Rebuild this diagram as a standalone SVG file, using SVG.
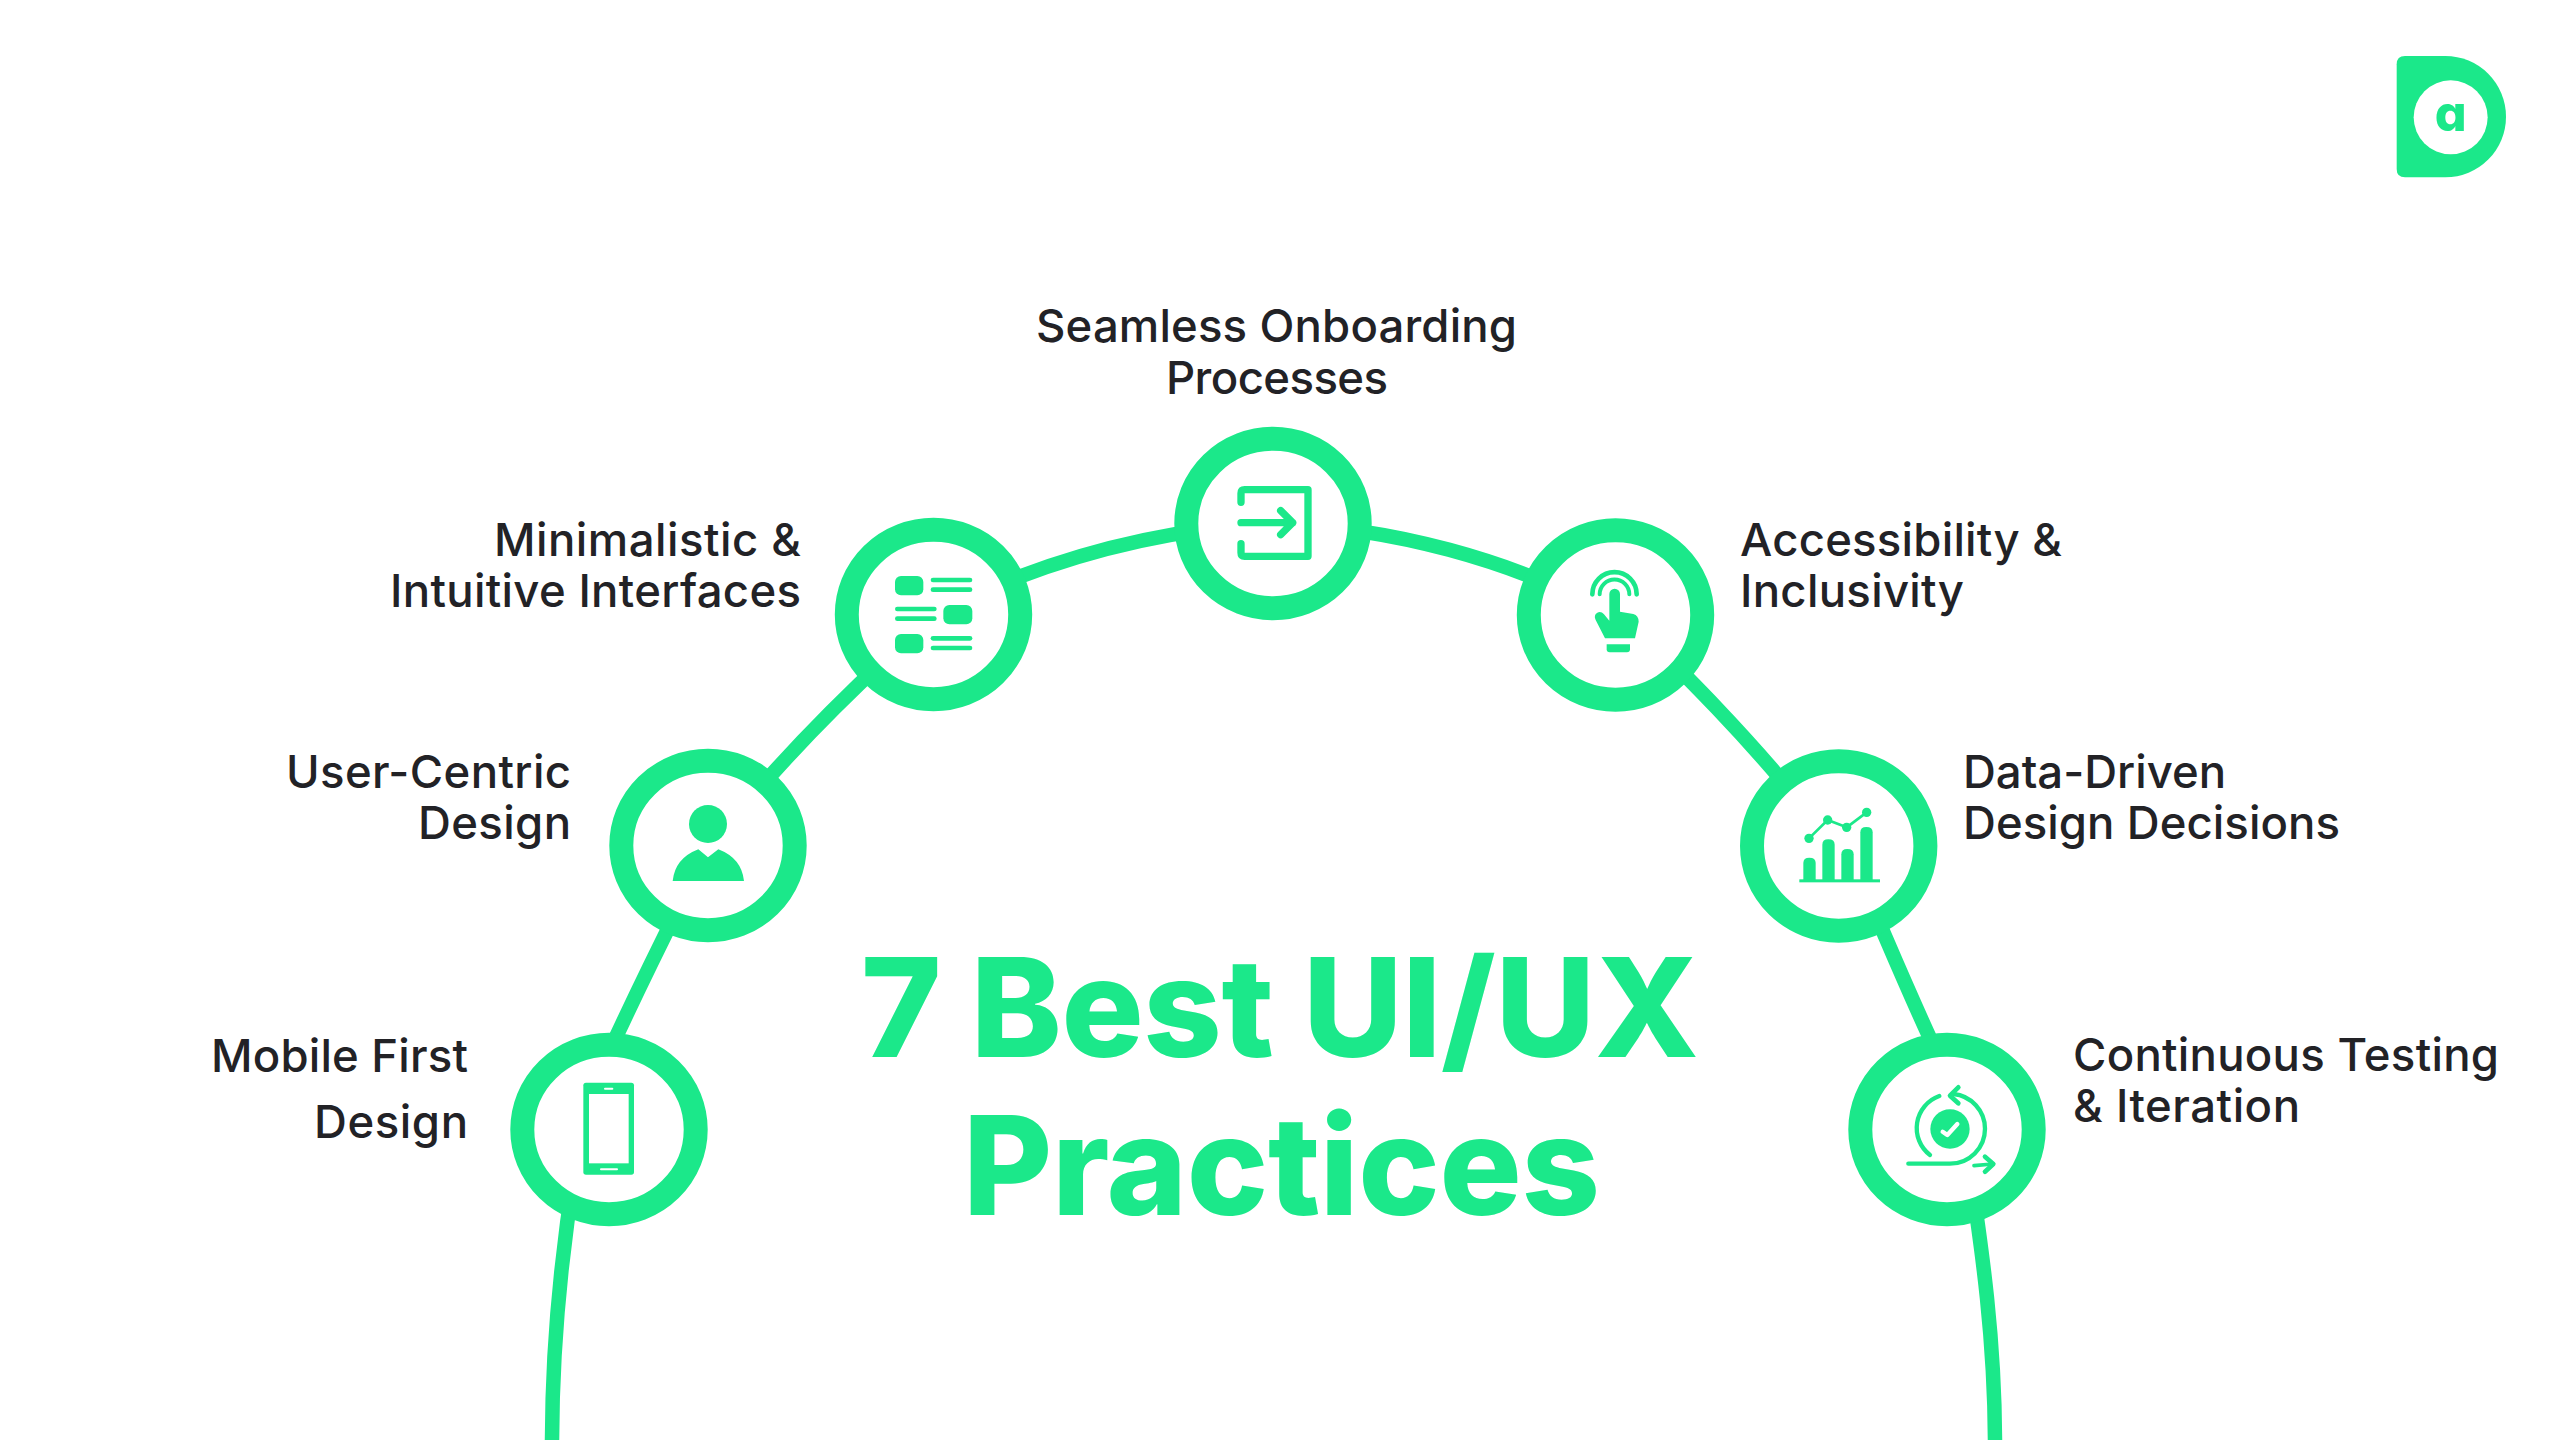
<svg xmlns="http://www.w3.org/2000/svg" width="2560" height="1440" viewBox="0 0 2560 1440">
<style>
.ring{fill:#fff;stroke:#1BE88A;stroke-width:24}
.conn{fill:none;stroke:#1BE88A;stroke-width:14.5}
.g{fill:#1BE88A}
.s{fill:none;stroke:#1BE88A;stroke-linecap:round;stroke-linejoin:round}
.w{fill:#fff}
.lbl{font-family:"Inter","Liberation Sans",sans-serif;font-size:45.5px;font-weight:500;fill:#222226}
.title{font-family:"Inter","Liberation Sans",sans-serif;font-size:137px;font-weight:800;fill:#1BE88A}
</style>
<rect width="2560" height="1440" fill="#fff"/>
<g id="connectors">
<path class="conn" d="M575 1170C562 1250 552 1340 552 1445"/>
<path class="conn" d="M680 905C660 945 640 985 610 1050"/>
<path class="conn" d="M890 655C850 692 800 740 745 805"/>
<path class="conn" d="M933 615A860 860 0 0 1 1273 523"/>
<path class="conn" d="M1273 523A800 800 0 0 1 1615 615"/>
<path class="conn" d="M1650 640C1690 680 1740 730 1790 790"/>
<path class="conn" d="M1865 890C1885 935 1905 985 1940 1060"/>
<path class="conn" d="M1970 1170C1982 1250 1995 1340 1995 1445"/>
</g>
<g id="node-mobile">
<ellipse class="ring" cx="609" cy="1129.5" rx="86.7" ry="84.7"/>
<g transform="translate(490 1010) scale(.33333)">
<rect class="g" x="280" y="218" width="152" height="276" rx="8"/>
<rect class="w" x="297" y="252" width="119" height="208"/>
<rect class="w" x="342" y="233" width="28" height="6" rx="3"/>
<rect class="w" x="330" y="475" width="54" height="6" rx="3"/>
</g>
<text class="lbl" x="211" y="1072" textLength="257">Mobile First</text>
<text class="lbl" x="314" y="1138" textLength="154">Design</text>
</g>
<g id="node-user">
<ellipse class="ring" cx="708" cy="845.5" rx="86.7" ry="84.7"/>
<g transform="translate(590 730) scale(.33333)">
<circle class="g" cx="354" cy="282" r="57"/>
<path class="g" d="M248 453Q255 385 325 358L354 382L385 358Q455 385 462 453Z"/>
</g>
<text class="lbl" x="286" y="788" textLength="285">User-Centric</text>
<text class="lbl" x="418" y="839" textLength="153">Design</text>
</g>
<g id="node-minimal">
<ellipse class="ring" cx="933.5" cy="614.5" rx="86.7" ry="84.7"/>
<g transform="translate(810 500) scale(.33333)">
<rect class="g" x="255" y="228" width="85" height="58" rx="18"/>
<rect class="g" x="362" y="233" width="125" height="14" rx="7"/>
<rect class="g" x="362" y="262" width="125" height="14" rx="7"/>
<rect class="g" x="255" y="320" width="125" height="14" rx="7"/>
<rect class="g" x="255" y="349" width="125" height="14" rx="7"/>
<rect class="g" x="400" y="315" width="87" height="58" rx="18"/>
<rect class="g" x="255" y="402" width="85" height="58" rx="18"/>
<rect class="g" x="362" y="408" width="125" height="14" rx="7"/>
<rect class="g" x="362" y="437" width="125" height="14" rx="7"/>
</g>
<text class="lbl" x="494" y="556" textLength="307">Minimalistic &amp;</text>
<text class="lbl" x="390" y="607" textLength="411">Intuitive Interfaces</text>
</g>
<g id="node-onboarding">
<ellipse class="ring" cx="1273" cy="523.5" rx="86.7" ry="84.7"/>
<g transform="translate(1140 400) scale(.33333)">
<path class="s" stroke-width="22" d="M303 307V280Q303 269 314 269H504V469H314Q303 469 303 458V431"/>
<path class="s" stroke-width="22" d="M303 368H458M422 332L458 368L422 404"/>
</g>
<text class="lbl" x="1036" y="342" textLength="481">Seamless Onboarding</text>
<text class="lbl" x="1166" y="394" textLength="222">Processes</text>
</g>
<g id="node-accessibility">
<ellipse class="ring" cx="1615.5" cy="615" rx="86.7" ry="84.7"/>
<g transform="translate(1500 500) scale(.33333)">
<path class="s" stroke-width="14" d="M277 283A66 66 0 0 1 410 283"/>
<path class="s" stroke-width="12" d="M299 283A44 44 0 0 1 388 283"/>
<path class="g" d="M328 282A16 16 0 0 1 360 282V335L400 342Q416 347 416 365L405 415H315L287 360Q280 345 292 338Q303 333 312 343L328 362Z"/>
<path class="g" d="M320 433H390V448Q390 457 381 457H329Q320 457 320 448Z"/>
</g>
<text class="lbl" x="1740" y="556" textLength="322">Accessibility &amp;</text>
<text class="lbl" x="1740" y="607" textLength="224">Inclusivity</text>
</g>
<g id="node-data">
<ellipse class="ring" cx="1838.7" cy="846" rx="86.7" ry="84.7"/>
<g transform="translate(1720 730) scale(.33333)">
<rect class="g" x="238" y="448" width="242" height="9"/>
<path class="g" d="M250 450V399Q250 383 268 383Q287 383 287 399V450Z"/>
<path class="g" d="M307 450V344Q307 328 325 328Q344 328 344 344V450Z"/>
<path class="g" d="M364 450V373Q364 357 382 357Q401 357 401 373V450Z"/>
<path class="g" d="M421 450V307Q421 291 439 291Q458 291 458 307V450Z"/>
<path class="s" stroke-width="8" d="M267 325L323 270L380 292L440 247"/>
<circle class="g" cx="267" cy="325" r="14"/>
<circle class="g" cx="323" cy="270" r="14"/>
<circle class="g" cx="380" cy="292" r="14"/>
<circle class="g" cx="440" cy="247" r="14"/>
</g>
<text class="lbl" x="1963" y="788" textLength="263">Data-Driven</text>
<text class="lbl" x="1963" y="839" textLength="377">Design Decisions</text>
</g>
<g id="node-testing">
<ellipse class="ring" cx="1947" cy="1129.5" rx="86.7" ry="84.7"/>
<g transform="translate(1830 1010) scale(.33333)">
<circle class="g" cx="360" cy="357" r="59"/>
<path fill="none" stroke="#fff" stroke-width="13" stroke-linecap="round" stroke-linejoin="round" d="M338 365L352 375L382 342"/>
<path class="s" stroke-width="13" d="M328 258A102 102 0 0 0 300 435"/>
<path class="s" stroke-width="13" d="M235 461H360A105 105 0 0 0 465 356A105 105 0 0 0 370 252"/>
<path class="s" stroke-width="14" d="M385 232L360 257L385 280"/>
<path class="s" stroke-width="11" d="M432 467L488 462"/>
<path class="s" stroke-width="14" d="M465 440L490 462L465 485"/>
</g>
<text class="lbl" x="2073" y="1071" textLength="426">Continuous Testing</text>
<text class="lbl" x="2073" y="1122" textLength="227">&amp; Iteration</text>
</g>
<g id="title">
<text class="title" x="861" y="1057" textLength="838">7 Best UI/UX</text>
<text class="title" x="963" y="1215" textLength="637">Practices</text>
</g>
<g id="logo" transform="translate(2360 30) scale(.33333)">
<path class="g" d="M135 78H256A182 182 0 0 1 256 442H135Q110 442 110 417V103Q110 78 135 78Z"/>
<circle class="w" cx="272" cy="262" r="111"/>
<text x="272" y="302" text-anchor="middle" font-family="Inter,'Liberation Sans',sans-serif" font-size="150" font-weight="800" fill="#1BE88A" style="font-feature-settings:'cv11'">a</text>
</g>
</svg>
